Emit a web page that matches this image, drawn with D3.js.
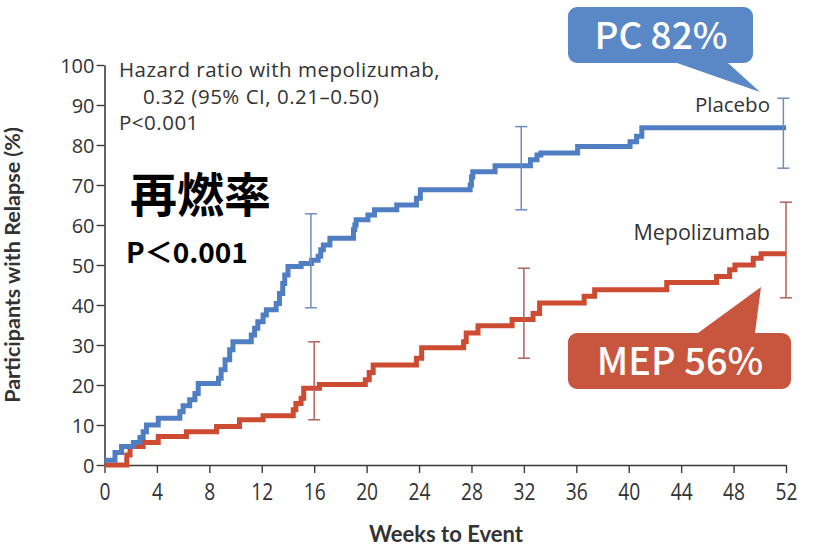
<!DOCTYPE html>
<html>
<head>
<meta charset="utf-8">
<script src="https://cdn.jsdelivr.net/npm/d3@7"></script>
<style>
  html, body { margin: 0; padding: 0; background: #fff; }
  svg { display: block; }
</style>
</head>
<body>
<svg id="chart" width="821" height="548"></svg>
<script>
// Kaplan-Meier style cumulative relapse curves (weeks, % with relapse)
const placeboWeeks = [0, 0.8, 1.3, 2.2, 2.7, 2.95, 3.2, 4.1, 5.75, 6.0, 6.5, 6.9, 7.15, 8.7, 8.9, 9.2, 9.55, 9.8,
  11.2, 11.45, 11.7, 12.1, 12.35, 13.1, 13.35, 13.6, 13.75, 14.0, 15.0, 15.8, 16.3, 16.5, 16.7, 17.2,
  19.0, 19.1, 19.2, 20.1, 20.6, 22.3, 23.8, 24.1, 27.9, 28.0, 28.1, 29.8, 32.5, 33.0, 33.3, 36.1,
  40.1, 40.6, 41.0, 52];
const placeboValues = [1.2, 3.1, 4.6, 5.6, 6.9, 8.3, 10, 11.7, 13.3, 14.8, 16.3, 17.9, 20.4, 21.7, 23.8, 26.3, 28.8, 30.8,
  32.5, 34.2, 35.8, 37.5, 38.8, 40.4, 42.9, 45.4, 47.5, 49.6, 50.4, 51.2, 52.2, 53.8, 55, 56.7,
  58.8, 60, 61.3, 62.5, 63.8, 65, 66.7, 68.8, 70, 72, 73.3, 74.8, 76.3, 77.5, 78, 79.6,
  80.8, 82.2, 84.3, 84.3];

const mepoWeeks = [0, 1.7, 1.95, 2.95, 4.1, 6.25, 8.55, 10.3, 12.1, 14.4, 14.6, 15.0, 15.2, 16.4,
  19.9, 20.2, 20.5, 23.8, 24.2, 27.4, 27.6, 28.5, 31.1, 32.7, 33.2, 36.6, 37.4, 42.9,
  46.7, 47.7, 48.1, 49.5, 50.1, 52];
const mepoValues = [0, 2.5, 4.6, 5.6, 7.1, 8.3, 9.6, 11.3, 12.3, 13.8, 15.4, 16.7, 19.2, 20.1,
  21.3, 23.1, 25, 26.7, 29.3, 30.8, 33, 34.8, 36.4, 37.9, 40.5, 42.2, 43.8, 45.6,
  47.1, 48.8, 50, 51.7, 52.8, 52.8];

// 95% confidence intervals at weeks 16, 32 and 52
const placeboCIWeeks = [15.75, 31.8, 51.8];
const placeboCILow = [39.3, 63.8, 74.2];
const placeboCIHigh = [62.8, 84.6, 91.7];
const mepoCIWeeks = [16, 32, 52];
const mepoCILow = [11.3, 26.7, 41.8];
const mepoCIHigh = [30.8, 49.2, 65.7];

const xTicks = [0, 4, 8, 12, 16, 20, 24, 28, 32, 36, 40, 44, 48, 52];
const yTicks = [0, 10, 20, 30, 40, 50, 60, 70, 80, 90, 100];

const hazardLines = ["Hazard ratio with mepolizumab,", "0.32 (95% CI, 0.21\u20130.50)", "P<0.001"];
const calloutLabels = ["PC 82%", "MEP 56%"];

const svg = d3.select("#chart");
const x = d3.scaleLinear().domain([0, 52]).range([104.5, 786]);
const y = d3.scaleLinear().domain([0, 100]).range([465, 65]);

const axisColor = "#3b3b3b";
const blue = "#4f7fc2";
const red = "#cc4b31";
const blueCI = "#6a8dbf";
const redCI = "#b4615a";

// Axes
const xAxis = svg.append("g")
  .attr("transform", `translate(0,${y(0)})`)
  .call(d3.axisBottom(x).tickValues(xTicks).tickSize(8).tickPadding(3).tickSizeOuter(0));
const yAxis = svg.append("g")
  .attr("transform", `translate(${x(0)},0)`)
  .call(d3.axisLeft(y).tickValues(yTicks).tickSize(8).tickPadding(2).tickSizeOuter(0));

[xAxis, yAxis].forEach(g => {
  g.select(".domain").attr("stroke", axisColor).attr("stroke-width", 1.6);
  g.selectAll(".tick line").attr("stroke", axisColor).attr("stroke-width", 1.4);
  g.selectAll(".tick text").attr("fill", "#333").attr("font-family", "'Open Sans', sans-serif");
});
xAxis.selectAll(".tick text")
  .attr("font-size", 24)
  .attr("dy", 0)
  .attr("y", 35)
  .attr("transform", "scale(0.8,1)");
yAxis.selectAll(".tick text")
  .attr("font-size", 20)
  .attr("dy", "0.36em");

// Axis titles
svg.append("text")
  .attr("x", 446).attr("y", 541.5)
  .attr("text-anchor", "middle")
  .attr("font-family", "Lato, sans-serif").attr("font-weight", 700).attr("font-size", 22)
  .attr("fill", "#333")
  .text("Weeks to Event");
svg.append("text")
  .attr("transform", "translate(19.5,265) rotate(-90)")
  .attr("text-anchor", "middle")
  .attr("font-family", "Lato, sans-serif").attr("font-weight", 700).attr("font-size", 21.5)
  .attr("fill", "#333")
  .text("Participants with Relapse (%)");

// Step curves
const stepLine = d3.line()
  .x(d => x(d[0]))
  .y(d => y(d[1]))
  .curve(d3.curveStepAfter);

const series = [
  { weeks: mepoWeeks, values: mepoValues, color: red },
  { weeks: placeboWeeks, values: placeboValues, color: blue }
];
series.forEach(s => {
  svg.append("path")
    .datum(d3.zip(s.weeks, s.values))
    .attr("d", stepLine)
    .attr("fill", "none")
    .attr("stroke", s.color)
    .attr("stroke-width", 5)
    .attr("stroke-linejoin", "miter")
    .attr("stroke-linecap", "butt");
});

// Confidence interval whiskers
function drawCI(weeks, lows, highs, color) {
  const g = svg.append("g").attr("stroke", color).attr("stroke-width", 1.5).attr("fill", "none");
  weeks.forEach((w, i) => {
    const cx = x(w);
    g.append("line").attr("x1", cx).attr("x2", cx).attr("y1", y(lows[i])).attr("y2", y(highs[i]));
    g.append("line").attr("x1", cx - 6).attr("x2", cx + 6).attr("y1", y(lows[i])).attr("y2", y(lows[i]));
    g.append("line").attr("x1", cx - 6).attr("x2", cx + 6).attr("y1", y(highs[i])).attr("y2", y(highs[i]));
  });
}
drawCI(placeboCIWeeks, placeboCILow, placeboCIHigh, blueCI);
drawCI(mepoCIWeeks, mepoCILow, mepoCIHigh, redCI);

// Series labels
const labelFont = "'Open Sans', sans-serif";
svg.append("text").attr("x", 770).attr("y", 112).attr("text-anchor", "end")
  .attr("font-family", labelFont).attr("font-size", 20.5).attr("fill", "#333").text("Placebo");
svg.append("text").attr("x", 770).attr("y", 240).attr("text-anchor", "end")
  .attr("font-family", labelFont).attr("font-size", 21.5).attr("fill", "#333").text("Mepolizumab");

// Hazard ratio note
const hx = [119, 143, 119];
hazardLines.forEach((t, i) => {
  svg.append("text").attr("x", hx[i]).attr("y", 77 + i * 26.7)
    .attr("font-family", labelFont).attr("font-size", 20.5)
    .attr("letter-spacing", 0.5).attr("fill", "#333").text(t);
});

// Japanese headline
const cjk = "'Noto Sans CJK JP', 'Noto Sans CJK SC', sans-serif";
svg.append("text").attr("x", 130).attr("y", 212)
  .attr("font-family", cjk).attr("font-weight", 700).attr("font-size", 47).attr("fill", "#000")
  .text("再燃率");
svg.append("text").attr("x", 126).attr("y", 263)
  .attr("font-family", cjk).attr("font-weight", 700).attr("font-size", 28).attr("fill", "#000")
  .text("P＜0.001");

// Speech-bubble callouts
function callout(box, tailBase, tip, fill) {
  const [x0, y0, x1, y1] = box, r = 9;
  const p = d3.path();
  p.moveTo(x0 + r, y0);
  if (tailBase.side === "top") {
    p.lineTo(tailBase.a, y0); p.lineTo(tip[0], tip[1]); p.lineTo(tailBase.b, y0);
  }
  p.lineTo(x1 - r, y0); p.arcTo(x1, y0, x1, y0 + r, r);
  p.lineTo(x1, y1 - r); p.arcTo(x1, y1, x1 - r, y1, r);
  if (tailBase.side === "bottom") {
    p.lineTo(tailBase.b, y1); p.lineTo(tip[0], tip[1]); p.lineTo(tailBase.a, y1);
  }
  p.lineTo(x0 + r, y1); p.arcTo(x0, y1, x0, y1 - r, r);
  p.lineTo(x0, y0 + r); p.arcTo(x0, y0, x0 + r, y0, r);
  p.closePath();
  svg.append("path").attr("d", p.toString()).attr("fill", fill);
}
callout([568, 7, 753, 63], { side: "bottom", a: 677, b: 728 }, [760, 92], "#5a88c6");
callout([568, 333, 791, 389], { side: "top", a: 698, b: 755 }, [761, 287], "#c8553d");

svg.append("text").attr("x", 661).attr("y", 48.5).attr("text-anchor", "middle")
  .attr("font-family", cjk).attr("font-weight", 500).attr("font-size", 37).attr("fill", "#fff")
  .text(calloutLabels[0]);
svg.append("text").attr("x", 680).attr("y", 375).attr("text-anchor", "middle")
  .attr("font-family", cjk).attr("font-weight", 500).attr("font-size", 38).attr("fill", "#fff")
  .text(calloutLabels[1]);
</script>
</body>
</html>
